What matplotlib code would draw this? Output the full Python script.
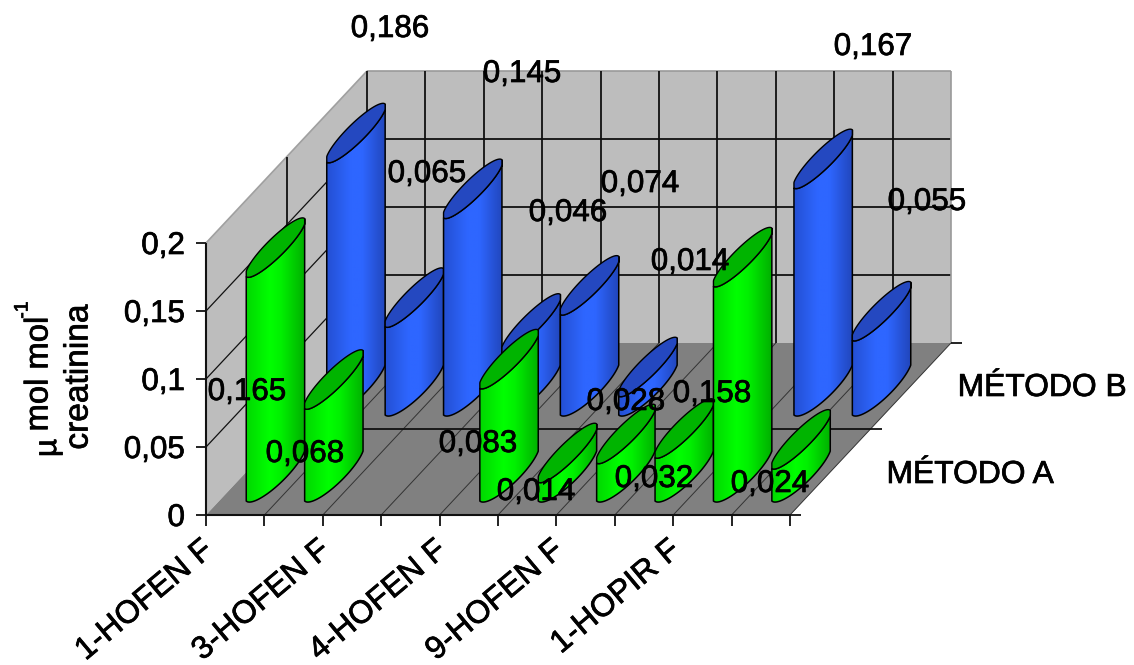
import numpy as np
import matplotlib
matplotlib.use("Agg")
import matplotlib.pyplot as plt
import matplotlib.patheffects as pe
from matplotlib.colors import LinearSegmentedColormap
from matplotlib.patches import PathPatch, Polygon
from matplotlib.path import Path

plt.rcParams['font.family'] = ['Liberation Sans', 'DejaVu Sans']

# Values per slot along the category axis; nan means no cylinder in that slot
categories = ['1-HOFEN F', '', '3-HOFEN F', '', '4-HOFEN F', '', '9-HOFEN F', '', '1-HOPIR F', '']
metodo_a = [0.165, 0.068, np.nan, np.nan, 0.083, 0.014, 0.028, 0.032, 0.158, 0.024]
metodo_b = [0.186, 0.065, 0.145, 0.046, 0.074, 0.014, np.nan, np.nan, 0.167, 0.055]
y_ticks = [0, 0.05, 0.1, 0.15, 0.2]
series_names = ['MÉTODO A', 'MÉTODO B']

# Free-floating data label anchors (canvas pixels), slot order as above
label_xy_a = [(247, 392), (305, 454), None, None, (478, 444), (536, 492),
              (626, 402), (654, 479), (712, 394), (770, 484)]
label_xy_b = [(390, 29), (427, 174), (522, 74), (568, 213), (640, 184), (690, 262),
              None, None, (873, 47), (927, 202)]

# Oblique projection of the chart box onto the canvas
ORIGIN_X, ORIGIN_Y = 206.0, 515.0
SLOT_W = 58.4
DEPTH_X, DEPTH_Y = 161.0, 172.0
VALUE_SCALE = 1360.0
N = len(categories)
FS = 22.6
INK = [pe.withStroke(linewidth=0.5, foreground='black')]


def project(cat, depth, value):
    return (ORIGIN_X + SLOT_W * cat + DEPTH_X * depth,
            ORIGIN_Y - DEPTH_Y * depth - VALUE_SCALE * value)


fig = plt.figure(figsize=(11.34, 6.65), dpi=100)
ax = fig.add_axes([0, 0, 1, 1])
ax.set_xlim(0, 1134)
ax.set_ylim(665, 0)
ax.axis('off')


def label(x, y, s, **kw):
    kw.setdefault('fontsize', FS)
    kw.setdefault('ha', 'center')
    kw.setdefault('va', 'center')
    kw.setdefault('zorder', 100)
    return ax.text(x, y, s, color='black', path_effects=INK, **kw)


WALL = '#bdbdbd'
FLOOR = '#808080'
top = y_ticks[-1]

# Box faces
ax.add_patch(Polygon([project(0, 1, 0), project(N, 1, 0), project(N, 1, top), project(0, 1, top)],
                     fc=WALL, ec='none', zorder=1))
ax.add_patch(Polygon([project(0, 0, 0), project(0, 1, 0), project(0, 1, top), project(0, 0, top)],
                     fc=WALL, ec='none', zorder=1))
ax.add_patch(Polygon([project(0, 0, 0), project(N, 0, 0), project(N, 1, 0), project(0, 1, 0)],
                     fc=FLOOR, ec='none', zorder=1))


def seg(a, b, lw=1.3, color='#111111', z=2):
    ax.plot([a[0], b[0]], [a[1], b[1]], color=color, lw=lw, zorder=z, solid_capstyle='butt')


# Gridlines on the walls
for v in y_ticks[1:-1]:
    seg(project(0, 1, v), project(N, 1, v))
for v in y_ticks[1:-1]:
    seg(project(0, 0, v), project(0, 1, v), lw=0.9)
seg(project(0, 0, top), project(0, 1, top), color='#a0a0a0', lw=1.2)
seg(project(0, 1, top), project(N, 1, top), color='#9a9a9a', lw=1.2)
seg(project(N, 1, 0), project(N, 1, top), color='#9a9a9a', lw=1.2)
for c in range(1, N):
    seg(project(c, 1, 0), project(c, 1, top))
seg(project(0, 1, 0), project(0, 1, top))
seg(project(0, 0.5, 0), project(0, 0.5, top))

# Floor lines
for c in range(1, N + 1):
    seg(project(c, 0, 0), project(c, 1, 0), lw=0.7, color='#333333')
seg(project(0, 0.5, 0), project(N, 0.5, 0))

# Axis lines and ticks
seg(project(0, 0, 0), project(0, 0, top), lw=1.5)
seg(project(0, 0, 0), project(N, 0, 0), lw=1.5)
for v in y_ticks:
    x, y = project(0, 0, v)
    seg((x - 10, y), (x, y), lw=1.3)
    label(x - 21, y + 3, f'{v:g}'.replace('.', ','), ha='right')
for c in range(N + 1):
    x, y = project(c, 0, 0)
    seg((x, y), (x, y + 11), lw=1.3)
for d in (0, 0.5, 1):
    x, y = project(N, d, 0)
    seg((x, y), (x + 11, y), lw=1.3)

# Tilted footprint of a cylinder
HALF_X = SLOT_W / 2
RISE = 29.0
BASE_BULGE = 8.0
CAP_BULGE = 6.5
t_low = np.linspace(np.pi, 2 * np.pi, 60)
t_all = np.linspace(0, 2 * np.pi, 121)


def rim(cx, cy, t, bulge):
    px = cx + HALF_X * np.cos(t) - bulge * np.sin(t)
    py = cy - RISE * np.cos(t) - bulge * np.sin(t)
    return np.clip(px, cx - HALF_X, cx + HALF_X), py


def cylinder(cat, depth, value, stops, cap, z):
    cx, cy0 = project(cat + 0.5, depth, 0)
    _, cy1 = project(cat + 0.5, depth, value)
    bx, by = rim(cx, cy0, t_low, BASE_BULGE)
    tx, ty = rim(cx, cy1, t_low, CAP_BULGE)
    body = np.column_stack([np.r_[bx, tx[::-1]], np.r_[by, ty[::-1]]])
    path = Path(np.r_[body, body[:1]], closed=True)
    cmap = LinearSegmentedColormap.from_list('shade', stops)
    img = ax.imshow(np.linspace(0, 1, 64)[None, :], cmap=cmap, aspect='auto', zorder=z,
                    extent=(cx - HALF_X, cx + HALF_X, cy0 + 40, cy1 - 40), interpolation='bilinear')
    img.set_clip_path(PathPatch(path, transform=ax.transData))
    ax.add_patch(PathPatch(path, fc='none', ec='black', lw=1.1, zorder=z))
    cxs, cys = rim(cx, cy1, t_all, CAP_BULGE)
    ax.add_patch(Polygon(np.column_stack([cxs, cys]), fc=cap, ec='black', lw=1.0, zorder=z))


BLUE = [(0, '#2450d4'), (0.4, '#2e66ff'), (0.6, '#2e66ff'), (1, '#2146bc')]
GREEN = [(0, '#00d800'), (0.4, '#00ff00'), (0.6, '#00f000'), (1, '#00b000')]

z = 3
for series, depth, stops, cap in ((metodo_b, 0.75, BLUE, '#2448c0'), (metodo_a, 0.25, GREEN, '#00b400')):
    for i, v in enumerate(series):
        if not np.isnan(v):
            cylinder(i, depth, v, stops, cap, z)
            z += 1

# Data labels sit above every cylinder
for series, anchors in ((metodo_b, label_xy_b), (metodo_a, label_xy_a)):
    for v, xy in zip(series, anchors):
        if xy is not None and not np.isnan(v):
            label(xy[0], xy[1], f'{v:.3f}'.replace('.', ','))

# Category labels
for i, name in enumerate(categories):
    if name:
        x, y = project(i, 0, 0)
        label(x - 6, y + 20, name, rotation=40, rotation_mode='anchor', ha='right', va='top',
              fontsize=FS + 0.4)

# Series labels along the right edge
label(970, 475, series_names[0], fontsize=FS + 0.3)
label(1042, 388, series_names[1], fontsize=FS + 0.3)

# Value axis title, assembled from rotated pieces
label(48, 448, 'µ', rotation=90)
label(39, 374, 'mol mol', rotation=90, fontsize=FS + 1)
label(23, 310, '-1', rotation=90, fontsize=14)
label(79, 377, 'creatinina', rotation=90, fontsize=FS + 1.5)

fig.savefig('out.png', dpi=100)
